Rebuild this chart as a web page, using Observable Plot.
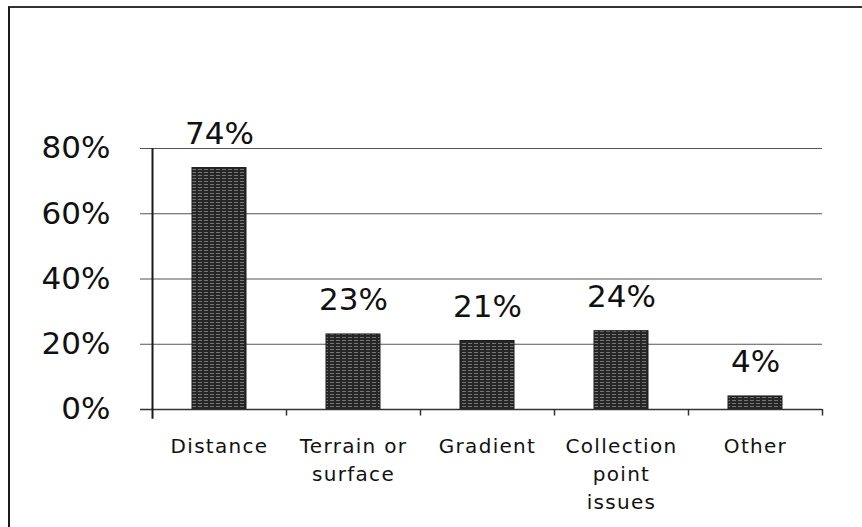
<!DOCTYPE html>
<html>
<head>
<meta charset="utf-8">
<script src="https://cdn.jsdelivr.net/npm/d3@7"></script>
<script src="https://cdn.jsdelivr.net/npm/@observablehq/plot@0.6"></script>
<style>
  html, body { margin: 0; padding: 0; background: #fff; overflow: hidden; }
  #wrap { position: relative; width: 862px; height: 527px; }
  #frame { position: absolute; left: 8px; top: 6px; width: 1000px; height: 700px;
           border-left: 2px solid #1a1a1a; border-top: 2px solid #333; }
  #chart { position: absolute; left: 0; top: 0; }
  .xlab text { letter-spacing: 1.3px; }
</style>
</head>
<body>
<div id="wrap">
  <div id="frame"></div>
  <div id="chart"></div>
</div>
<script>
const categories = ["Distance", "Terrain or surface", "Gradient", "Collection point issues", "Other"];
const axisLabels = ["Distance", "Terrain or\nsurface", "Gradient", "Collection\npoint\nissues", "Other"];
const values = [74, 23, 21, 24, 4];
const yTicks = [0, 20, 40, 60, 80];

const W = 862, H = 527;
const mL = 152, mR = 40, mT = 148, mB = 118;
const step = (W - mL - mR) / categories.length;
const data = categories.map((c, i) => ({cat: c, label: axisLabels[i], value: values[i]}));

const plot = Plot.plot({
  width: W, height: H,
  marginLeft: mL, marginRight: mR, marginTop: mT, marginBottom: mB,
  style: {fontFamily: "'DejaVu Sans', Verdana, sans-serif", color: "#111", background: "transparent", overflow: "visible"},
  x: {domain: categories, paddingInner: 0.6, paddingOuter: 0.3, axis: null},
  y: {domain: [0, 80], axis: null},
  marks: [
    Plot.ruleY(yTicks.filter(d => d > 0), {y: d => d, stroke: "#555", strokeWidth: 1.2, insetLeft: -12}),
    Plot.barY(data, {x: "cat", y: "value", fill: "url(#barpat)", stroke: "#1a1a1a", strokeWidth: 1}),
    Plot.ruleY([0], {stroke: "#333", strokeWidth: 1.5, insetLeft: -12}),
    Plot.ruleX([categories[0]], {y1: -3, y2: 80, dx: -step / 2, stroke: "#1a1a1a", strokeWidth: 2}),
    Plot.ruleX(categories, {y1: 0, y2: -2, dx: step / 2, stroke: "#333", strokeWidth: 1.5}),
    Plot.axisY({ticks: yTicks, tickSize: 0, tickPadding: 42, fontSize: 31, label: null, tickFormat: d => d + "%"}),
    Plot.text(data, {x: "cat", y: "value", text: d => d.value + "%", lineAnchor: "bottom", dy: -24, fontSize: 31, fill: "#111"}),
    Plot.text(data, {x: "cat", text: "label", frameAnchor: "bottom", lineAnchor: "top", dy: 24, lineHeight: 1.4, fontSize: 20, fill: "#111", className: "xlab"})
  ]
});

// bar fill pattern (dark with faint horizontal streaks)
const svgNS = "http://www.w3.org/2000/svg";
const defs = document.createElementNS(svgNS, "defs");
const pat = document.createElementNS(svgNS, "pattern");
pat.setAttribute("id", "barpat");
pat.setAttribute("patternUnits", "userSpaceOnUse");
pat.setAttribute("width", "6");
pat.setAttribute("height", "3");
const bg = document.createElementNS(svgNS, "rect");
bg.setAttribute("width", "6"); bg.setAttribute("height", "3"); bg.setAttribute("fill", "#262626");
const ln = document.createElementNS(svgNS, "line");
ln.setAttribute("x1", "0"); ln.setAttribute("x2", "4"); ln.setAttribute("y1", "1.5"); ln.setAttribute("y2", "1.5");
ln.setAttribute("stroke", "#9a9a9a"); ln.setAttribute("stroke-width", "0.7");
pat.appendChild(bg); pat.appendChild(ln); defs.appendChild(pat);
plot.insertBefore(defs, plot.firstChild);

document.getElementById("chart").appendChild(plot);
</script>
</body>
</html>
